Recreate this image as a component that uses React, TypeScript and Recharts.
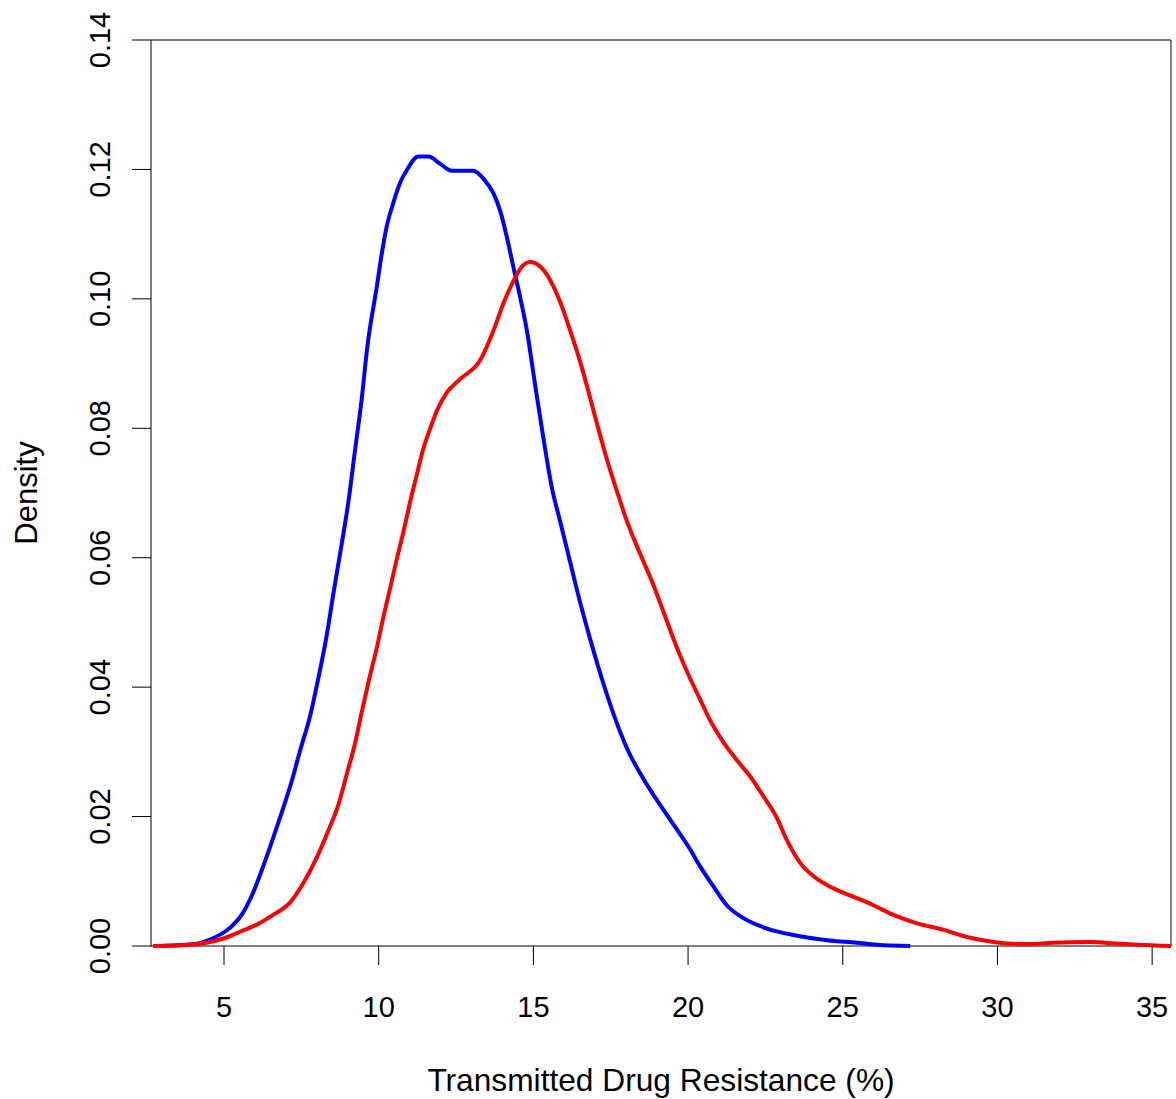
import { LineChart, Line, XAxis, YAxis, ReferenceArea } from 'recharts'

// kernel density estimates, two groups
const groupA = [
  { x: 3.0, y: 0 }, { x: 3.5, y: 0.0001 }, { x: 4.06, y: 0.0003 }, { x: 4.55, y: 0.001 },
  { x: 5.19, y: 0.0028 }, { x: 5.57, y: 0.0048 }, { x: 5.9, y: 0.0078 }, { x: 6.22, y: 0.0117 },
  { x: 6.54, y: 0.016 }, { x: 6.87, y: 0.0207 }, { x: 7.19, y: 0.0255 }, { x: 7.46, y: 0.0302 },
  { x: 7.78, y: 0.0355 }, { x: 8.05, y: 0.0414 }, { x: 8.32, y: 0.048 }, { x: 8.53, y: 0.0543 },
  { x: 8.8, y: 0.062 }, { x: 9.02, y: 0.0686 }, { x: 9.24, y: 0.0768 }, { x: 9.45, y: 0.0845 },
  { x: 9.63, y: 0.0925 }, { x: 9.94, y: 0.1019 }, { x: 10.1, y: 0.107 }, { x: 10.26, y: 0.1112 },
  { x: 10.47, y: 0.1148 }, { x: 10.69, y: 0.1179 }, { x: 10.91, y: 0.1199 }, { x: 11.28, y: 0.122 },
  { x: 11.61, y: 0.122 }, { x: 11.98, y: 0.1209 }, { x: 12.36, y: 0.1198 }, { x: 13.06, y: 0.1198 },
  { x: 13.38, y: 0.1186 }, { x: 13.71, y: 0.1163 }, { x: 13.92, y: 0.1137 }, { x: 14.14, y: 0.1096 },
  { x: 14.35, y: 0.105 }, { x: 14.57, y: 0.1003 }, { x: 14.79, y: 0.0951 }, { x: 15.05, y: 0.0869 },
  { x: 15.32, y: 0.0786 }, { x: 15.59, y: 0.071 }, { x: 15.86, y: 0.0657 }, { x: 16.19, y: 0.0593 },
  { x: 16.51, y: 0.0531 }, { x: 16.83, y: 0.0475 }, { x: 17.26, y: 0.0406 }, { x: 17.7, y: 0.0344 },
  { x: 18.02, y: 0.0306 }, { x: 18.56, y: 0.0258 }, { x: 19.31, y: 0.0203 }, { x: 20.07, y: 0.0149 },
  { x: 20.39, y: 0.0123 }, { x: 20.82, y: 0.0092 }, { x: 21.25, y: 0.0063 }, { x: 21.79, y: 0.0043 },
  { x: 22.55, y: 0.0027 }, { x: 23.41, y: 0.0017 }, { x: 24.49, y: 0.0009 }, { x: 25.46, y: 0.0005 },
  { x: 26.1, y: 0.0002 }, { x: 27.18, y: 0 },
]

const groupB = [
  { x: 2.7, y: 0 }, { x: 3.9, y: 0.0002 }, { x: 5.0, y: 0.0012 }, { x: 5.52, y: 0.0022 },
  { x: 6.06, y: 0.0033 }, { x: 6.59, y: 0.0048 }, { x: 7.13, y: 0.0067 }, { x: 7.56, y: 0.0097 },
  { x: 8.0, y: 0.0137 }, { x: 8.37, y: 0.0178 }, { x: 8.7, y: 0.0219 }, { x: 8.97, y: 0.0266 },
  { x: 9.24, y: 0.0314 }, { x: 9.45, y: 0.0361 }, { x: 9.67, y: 0.0408 }, { x: 9.94, y: 0.0461 },
  { x: 10.15, y: 0.0508 }, { x: 10.37, y: 0.0553 }, { x: 10.58, y: 0.0597 }, { x: 10.8, y: 0.064 },
  { x: 11.01, y: 0.0685 }, { x: 11.23, y: 0.0728 }, { x: 11.44, y: 0.0768 }, { x: 11.66, y: 0.0799 },
  { x: 11.88, y: 0.0827 }, { x: 12.2, y: 0.0855 }, { x: 12.63, y: 0.0876 }, { x: 13.28, y: 0.0905 },
  { x: 13.71, y: 0.0951 }, { x: 14.03, y: 0.0993 }, { x: 14.35, y: 0.1027 }, { x: 14.6, y: 0.1048 },
  { x: 14.89, y: 0.1057 }, { x: 15.22, y: 0.105 }, { x: 15.43, y: 0.1038 }, { x: 15.65, y: 0.1019 },
  { x: 15.86, y: 0.0996 }, { x: 16.19, y: 0.0951 }, { x: 16.51, y: 0.0903 }, { x: 16.83, y: 0.0848 },
  { x: 17.05, y: 0.0808 }, { x: 17.37, y: 0.0753 }, { x: 17.7, y: 0.0703 }, { x: 18.02, y: 0.0657 },
  { x: 18.45, y: 0.0606 }, { x: 18.88, y: 0.0558 }, { x: 19.2, y: 0.0517 }, { x: 19.63, y: 0.0462 },
  { x: 20.07, y: 0.0413 }, { x: 20.39, y: 0.0381 }, { x: 20.71, y: 0.0349 }, { x: 21.14, y: 0.0315 },
  { x: 21.58, y: 0.0287 }, { x: 22.01, y: 0.0262 }, { x: 22.44, y: 0.0231 }, { x: 22.87, y: 0.0198 },
  { x: 23.19, y: 0.0164 }, { x: 23.63, y: 0.0128 }, { x: 24.16, y: 0.0104 }, { x: 24.7, y: 0.0089 },
  { x: 25.35, y: 0.0076 }, { x: 25.99, y: 0.0063 }, { x: 26.64, y: 0.0048 }, { x: 27.4, y: 0.0035 },
  { x: 28.26, y: 0.0025 }, { x: 29.01, y: 0.0014 }, { x: 29.77, y: 0.0007 }, { x: 30.31, y: 0.0004 },
  { x: 31.0, y: 0.0003 }, { x: 31.8, y: 0.0005 }, { x: 33.0, y: 0.0006 }, { x: 33.8, y: 0.0004 },
  { x: 34.5, y: 0.0002 }, { x: 35.61, y: 0 },
]

const xTicks = [5, 10, 15, 20, 25, 30, 35]
const yTicks = [0, 0.02, 0.04, 0.06, 0.08, 0.1, 0.12, 0.14]
const xDomain: [number, number] = [2.64, 35.61]
const yDomain: [number, number] = [0, 0.14]

const FONT = '"Liberation Sans", Arial, sans-serif'

const XTick = ({ x, y, payload }: any) => (
  <text x={x} y={y + 50} textAnchor='middle' fontFamily={FONT} fontSize={29} fill='#000'>
    {payload.value}
  </text>
)

const YTick = ({ x, y, payload }: any) => (
  <text
    x={x - 20}
    y={y}
    transform={`rotate(-90, ${x - 20}, ${y})`}
    textAnchor='middle'
    fontFamily={FONT}
    fontSize={29}
    fill='#000'
  >
    {payload.value.toFixed(2)}
  </text>
)

// axis titles, centred on the plot region
const XTitle = ({ viewBox }: any) => (
  <text x={viewBox.x + viewBox.width / 2} y={viewBox.y + viewBox.height - 8} textAnchor='middle' fontFamily={FONT} fontSize={31.7} fill='#000'>
    Transmitted Drug Resistance (%)
  </text>
)

const YTitle = ({ viewBox }: any) => {
  const cx = viewBox.x + 37
  const cy = viewBox.y + viewBox.height / 2
  return (
    <text x={cx} y={cy} transform={`rotate(-90, ${cx}, ${cy})`} textAnchor='middle' fontFamily={FONT} fontSize={31} fill='#000'>
      Density
    </text>
  )
}

export default function App() {
  return (
    <div style={{ position: 'absolute', left: 0, top: 0, background: '#fff' }}>
      <LineChart width={1176} height={1099} margin={{ top: 40, right: 5, left: 0, bottom: 0 }}>
        <XAxis
          dataKey='x'
          type='number'
          domain={xDomain}
          ticks={xTicks}
          allowDataOverflow
          axisLine={false}
          tickSize={19}
          tickLine={{ stroke: '#000', strokeWidth: 1 }}
          tick={<XTick />}
          height={153}
          label={{ content: XTitle }}
        />
        <YAxis
          dataKey='y'
          type='number'
          domain={yDomain}
          ticks={yTicks}
          axisLine={false}
          tickSize={19}
          tickLine={{ stroke: '#000', strokeWidth: 1 }}
          tick={<YTick />}
          width={151}
          label={{ content: YTitle }}
        />
        <ReferenceArea x1={xDomain[0]} x2={xDomain[1]} y1={yDomain[0]} y2={yDomain[1]} fill='none' stroke='#000' strokeWidth={1} ifOverflow='visible' />
        <Line data={groupA} dataKey='y' type='monotone' stroke='#0000ff' strokeWidth={4} dot={false} isAnimationActive={false} />
        <Line data={groupB} dataKey='y' type='monotone' stroke='#ff0000' strokeWidth={4} dot={false} isAnimationActive={false} />
      </LineChart>
    </div>
  )
}
